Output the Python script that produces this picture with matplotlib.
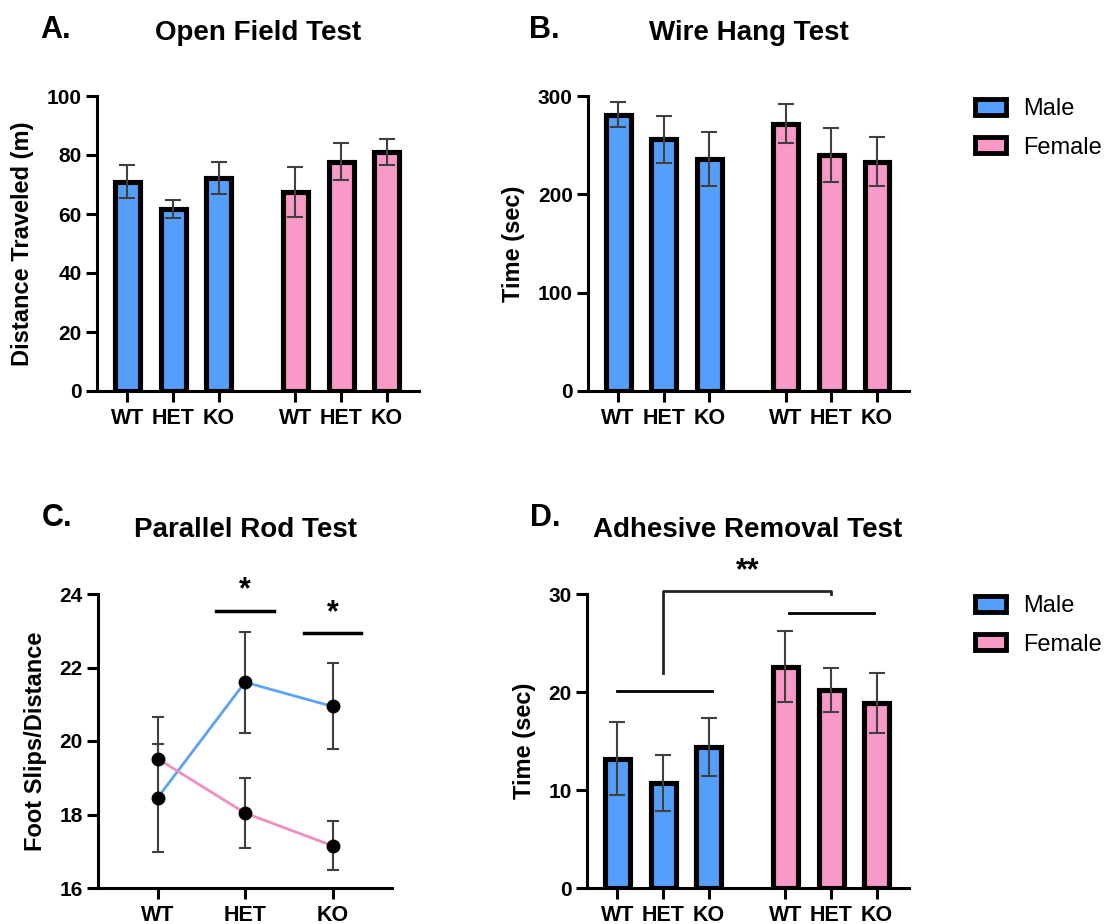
import matplotlib
matplotlib.use("Agg")
import matplotlib.pyplot as plt
from matplotlib.patches import Patch
import numpy as np

plt.rcParams['font.family'] = ['Liberation Sans', 'DejaVu Sans']

genotypes = ["WT", "HET", "KO"]
sexes = ["Male", "Female"]

# A. Open Field Test (distance, m)
of_male = [71.0, 61.8, 72.2]
of_male_err = [5.7, 3.1, 5.4]
of_female = [67.5, 77.7, 81.0]
of_female_err = [8.4, 6.2, 4.3]

# B. Wire Hang Test (sec)
wh_male = [281, 256, 235.5]
wh_male_err = [13, 24, 27.5]
wh_female = [272, 240, 233]
wh_female_err = [19.6, 27, 25]

# C. Parallel Rod Test (foot slips / distance)
pr_male = [18.45, 21.6, 20.94]
pr_male_err = [1.46, 1.37, 1.17]
pr_female = [19.52, 18.04, 17.15]
pr_female_err = [1.13, 0.94, 0.66]

# D. Adhesive Removal Test (sec)
ad_male = [13.2, 10.7, 14.35]
ad_male_err = [3.7, 2.85, 2.95]
ad_female = [22.6, 20.2, 18.9]
ad_female_err = [3.6, 2.2, 3.05]

BLUE = '#559FFC'
PINK = '#F899C7'
LBLUE = '#5CA3F5'
LPINK = '#F28DC3'
ERRC = '#404040'

W, H = 1107, 924
fig = plt.figure(figsize=(W / 100, H / 100), dpi=100)

def px_axes(l, r, t, b):
    return fig.add_axes([l / W, 1 - b / H, (r - l) / W, (b - t) / H])

bar_x = np.array([0, 1, 2, 3.67, 4.67, 5.67])

def style_axes(ax):
    for s in ['top', 'right']:
        ax.spines[s].set_visible(False)
    for s in ['left', 'bottom']:
        ax.spines[s].set_linewidth(2.2)
    ax.tick_params(axis='both', length=8, width=2.2, direction='out')
    ax.tick_params(axis='y', labelsize=15, pad=3)
    ax.tick_params(axis='x', labelsize=15.5, pad=4)
    for lab in ax.get_xticklabels() + ax.get_yticklabels():
        lab.set_fontweight('bold')

def bar_panel(ax, male, male_err, female, female_err, ylim, yticks, ylabel):
    vals = list(male) + list(female)
    errs = list(male_err) + list(female_err)
    colors = [BLUE] * 3 + [PINK] * 3
    ax.bar(bar_x, vals, width=0.545, color=colors, edgecolor='black',
           linewidth=3.7, zorder=2)
    ax.errorbar(bar_x, vals, yerr=errs, fmt='none', ecolor=ERRC,
                elinewidth=1.5, capsize=5.5, capthick=1.5, zorder=3)
    ax.set_xlim(-0.66, 6.37)
    ax.set_ylim(*ylim)
    ax.set_yticks(yticks)
    ax.set_xticks(bar_x)
    ax.set_xticklabels(genotypes * 2)
    ax.set_ylabel(ylabel, fontsize=17, fontweight='bold', labelpad=9)
    style_axes(ax)

# Panel A
axA = px_axes(97, 419, 96, 391)
bar_panel(axA, of_male, of_male_err, of_female, of_female_err,
          (0, 100), [0, 20, 40, 60, 80, 100], 'Distance Traveled (m)')

# Panel B
axB = px_axes(588, 909, 96, 391)
bar_panel(axB, wh_male, wh_male_err, wh_female, wh_female_err,
          (0, 300), [0, 100, 200, 300], 'Time (sec)')

# Panel C
axC = px_axes(98, 392, 594, 888)
cx = np.arange(3)
axC.errorbar(cx, pr_male, yerr=pr_male_err, fmt='none', ecolor=ERRC,
             elinewidth=1.5, capsize=4.5, capthick=1.5, zorder=2)
axC.errorbar(cx, pr_female, yerr=pr_female_err, fmt='none', ecolor=ERRC,
             elinewidth=1.5, capsize=4.5, capthick=1.5, zorder=2)
axC.plot(cx, pr_male, color=LBLUE, lw=2, zorder=3)
axC.plot(cx, pr_female, color=LPINK, lw=2, zorder=3)
axC.plot(cx, pr_male, 'o', color='black', ms=9, zorder=4)
axC.plot(cx, pr_female, 'o', color='black', ms=9, zorder=4)
axC.set_xlim(-0.68, 2.68)
axC.set_ylim(16, 24)
axC.set_yticks([16, 18, 20, 22, 24])
axC.set_xticks(cx)
axC.set_xticklabels(genotypes)
axC.set_ylabel('Foot Slips/Distance', fontsize=17, fontweight='bold', labelpad=9)
style_axes(axC)
# significance
axC.plot([0.674, 1.326], [23.55, 23.55], color='black', lw=2.5, clip_on=False)
axC.text(1.0, 24.1, '*', ha='center', va='center', fontsize=22, fontweight='bold', clip_on=False)
axC.plot([1.669, 2.331], [22.93, 22.93], color='black', lw=2.5, clip_on=False)
axC.text(2.0, 23.48, '*', ha='center', va='center', fontsize=22, fontweight='bold', clip_on=False)

# Panel D
axD = px_axes(587, 909, 594, 888)
bar_panel(axD, ad_male, ad_male_err, ad_female, ad_female_err,
          (0, 30), [0, 10, 20, 30], 'Time (sec)')
axD.plot([bar_x[0], bar_x[2] + 0.06], [20.15, 20.15], color='black', lw=2, clip_on=False)
axD.plot([bar_x[3] + 0.07, bar_x[5] - 0.07], [28.03, 28.03], color='black', lw=2, clip_on=False)
axD.plot([bar_x[1], bar_x[1], bar_x[4], bar_x[4]], [21.9, 30.3, 30.3, 30.05],
         color='#222222', lw=2, clip_on=False)
axD.text(2.85, 32.3, '**', ha='center', va='center', fontsize=22, fontweight='bold', clip_on=False)

# Titles
for ax, title, ty in [(axA, 'Open Field Test', 33), (axB, 'Wire Hang Test', 33),
                      (axC, 'Parallel Rod Test', 530), (axD, 'Adhesive Removal Test', 530)]:
    bb = ax.get_position()
    fig.text(bb.x0 + bb.width / 2, 1 - ty / H, title, ha='center', va='center',
             fontsize=20, fontweight='bold')

# Panel letters
for lx, ly, letter in [(40, 30, 'A.'), (529, 30, 'B.'), (42, 518, 'C.'), (530, 518, 'D.')]:
    fig.text(lx / W, 1 - ly / H, letter, ha='left', va='center', fontsize=22, fontweight='bold')

# Legends
handles = [Patch(facecolor=BLUE, edgecolor='black', linewidth=3.5, label='Male'),
           Patch(facecolor=PINK, edgecolor='black', linewidth=3.5, label='Female')]
for ytop in [98, 595]:
    fig.legend(handles=handles, loc='upper left', bbox_to_anchor=(975 / W, 1 - ytop / H),
               frameon=False, fontsize=17, handlelength=1.3, handleheight=0.65,
               handletextpad=0.75, labelspacing=0.7, borderaxespad=0, borderpad=0)

fig.savefig('out.png', dpi=100)
